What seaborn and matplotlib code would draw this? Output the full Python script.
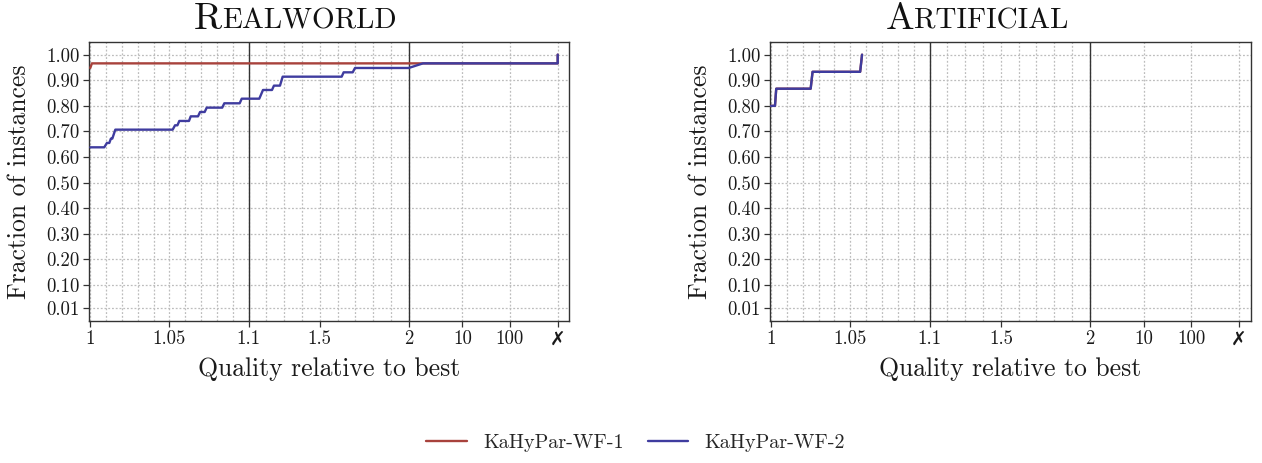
import numpy as np
import pandas as pd
import matplotlib
matplotlib.use("Agg")
import matplotlib.pyplot as plt
import seaborn as sns
from matplotlib.lines import Line2D
from matplotlib.offsetbox import TextArea, HPacker, AnchoredOffsetbox

# ---------------- data ----------------
algorithms = ["KaHyPar-WF-1", "KaHyPar-WF-2"]
colors = ["#A8423C", "#3F3C9F"]
panel_titles = ["Realworld", "Artificial"]

INFEASIBLE = 1000.0  # position value used for the "✗" column

real_wf1_x = [1.0, 1.001, 1000.0, 1000.0]
real_wf1_y = [0.948, 0.966, 0.966, 1.0]

real_wf2_x = [1.0, 1.0088, 1.0105, 1.012, 1.013, 1.0139, 1.0158, 1.052, 1.0535,
              1.055, 1.0562, 1.0623, 1.0634, 1.068, 1.0693, 1.0722, 1.0735, 1.0833,
              1.0846, 1.0943, 1.0956, 1.1596, 1.1804, 1.231, 1.242, 1.276, 1.291,
              1.623, 1.634, 1.685, 1.698, 2.0, 3.07, 1000.0, 1000.0]
real_wf2_y = [0.638, 0.638, 0.655, 0.655, 0.672, 0.672, 0.707, 0.707, 0.724,
              0.724, 0.741, 0.741, 0.759, 0.759, 0.776, 0.776, 0.793, 0.793,
              0.810, 0.810, 0.828, 0.828, 0.862, 0.862, 0.879, 0.879, 0.914,
              0.914, 0.931, 0.931, 0.948, 0.948, 0.966, 0.966, 1.0]

art_wf1_x = [1.0, 1.0025, 1.0033, 1.025, 1.0262, 1.0562, 1.0574]
art_wf1_y = [0.800, 0.800, 0.867, 0.867, 0.933, 0.933, 1.0]
art_wf2_x = [1.0, 1.0025, 1.0033, 1.025, 1.0262, 1.0562, 1.0574]
art_wf2_y = [0.800, 0.800, 0.867, 0.867, 0.933, 0.933, 1.0]

x_major = [1.0, 1.05, 1.1, 1.5, 2.0, 10.0, 100.0, INFEASIBLE]
x_major_labels = ["1", "1.05", "1.1", "1.5", "2", "10", "100", "\u2717"]
x_minor = [1.01, 1.02, 1.03, 1.04, 1.06, 1.07, 1.08, 1.09,
           1.2, 1.3, 1.4, 1.6, 1.7, 1.8, 1.9]
y_ticks = [0.01, 0.1, 0.2, 0.3, 0.4, 0.5, 0.6, 0.7, 0.8, 0.9, 1.0]
y_labels = ["0.01", "0.10", "0.20", "0.30", "0.40", "0.50",
            "0.60", "0.70", "0.80", "0.90", "1.00"]


def frame(xs, ys, algo):
    return pd.DataFrame({"ratio": xs, "frac": ys, "algo": algo})


panels = [
    pd.concat([frame(real_wf1_x, real_wf1_y, algorithms[0]),
               frame(real_wf2_x, real_wf2_y, algorithms[1])], ignore_index=True),
    pd.concat([frame(art_wf1_x, art_wf1_y, algorithms[0]),
               frame(art_wf2_x, art_wf2_y, algorithms[1])], ignore_index=True),
]

# ---------------- piecewise x scale ----------------
_G = np.array([0.0, 1.0, 1.1, 2.0, 2 + np.log10(5), 2 + np.log10(50),
               2 + np.log10(500), 2 + np.log10(5000)])
_T = np.array([-1584.0, 0.0, 158.4, 318.4, 372.0, 419.4, 467.4, 515.4])


def fwd(x):
    x = np.asarray(x, dtype=float)
    g = np.where(x <= 2, x, 2 + np.log10(np.maximum(x, 2) / 2))
    return np.interp(g, _G, _T)


def inv(t):
    t = np.asarray(t, dtype=float)
    g = np.interp(t, _T, _G)
    return np.where(g <= 2, g, 2 * 10 ** (np.maximum(g, 2) - 2))


# ---------------- style ----------------
sns.set_theme(style="white")
plt.rcParams["font.family"] = ["cmr10", "DejaVu Serif"]
plt.rcParams["axes.formatter.use_mathtext"] = True
plt.rcParams["axes.unicode_minus"] = False

W, H = 1262, 463
fig = plt.figure(figsize=(W / 100, H / 100), dpi=100)

axes_px = [(89.3, 42.0, 569.3, 320.7), (770.0, 42.0, 1250.7, 320.7)]
title_px = [(295, 19), (977, 19)]

for i, (df, (l, t, r, b)) in enumerate(zip(panels, axes_px)):
    ax = fig.add_axes([l / W, 1 - b / H, (r - l) / W, (b - t) / H])
    ax.set_xscale("function", functions=(fwd, inv))
    sns.lineplot(data=df, x="ratio", y="frac", hue="algo", hue_order=algorithms,
                 palette=colors, sort=False, estimator=None, lw=1.7,
                 legend=False, ax=ax, zorder=3)
    ax.set_xlim(float(inv(-1.0)), float(inv(479.0)))
    ax.set_ylim(-0.0395, 1.0495)
    ax.set_xticks(x_major)
    ax.set_xticklabels(x_major_labels)
    ax.set_xticks(x_minor, minor=True)
    ax.set_yticks(y_ticks)
    ax.set_yticklabels(y_labels)
    ax.set_axisbelow(True)
    ax.grid(which="both", axis="x", ls=(0, (1.5, 1.5)), color="#BDBDBD", lw=0.9)
    ax.grid(which="major", axis="y", ls=(0, (1.5, 1.5)), color="#BDBDBD", lw=0.9)
    for xv in (1.1, 2.0):
        ax.axvline(xv, color="#333333", lw=1.0, zorder=2)
    for s in ax.spines.values():
        s.set_color("#333333")
        s.set_linewidth(1.0)
    ax.tick_params(axis="both", which="both", direction="out", length=4,
                   width=0.9, color="#333333", labelsize=13.5, pad=3,
                   labelcolor="#1a1a1a")
    ax.tick_params(axis="x", which="minor", length=3)
    ax.tick_params(axis="y", left=True)
    ax.tick_params(axis="x", bottom=True)
    lab = ax.get_xticklabels()[-1]
    lab.set_fontfamily("DejaVu Sans")
    lab.set_fontweight("bold")
    ax.set_xlabel("Quality relative to best", fontsize=18.5, labelpad=6,
                  color="#1a1a1a")
    ax.set_ylabel("Fraction of instances", fontsize=18.5, labelpad=11,
                  color="#1a1a1a")

    name = panel_titles[i]
    first = TextArea(name[0].upper(), textprops=dict(fontsize=27.5, color="#111111"))
    rest = TextArea(name[1:].upper(), textprops=dict(fontsize=21, color="#111111"))
    box = HPacker(children=[first, rest], align="baseline", pad=0, sep=0)
    xc, yc = title_px[i]
    anch = AnchoredOffsetbox(loc="center", child=box, frameon=False,
                             bbox_to_anchor=(xc / W, 1 - yc / H),
                             bbox_transform=fig.transFigure, borderpad=0, pad=0)
    fig.add_artist(anch)

handles = [Line2D([], [], color=c, lw=1.7) for c in colors]
fig.legend(handles, algorithms, loc="center", bbox_to_anchor=(635.5 / W, 1 - 443 / H),
           ncol=2, frameon=False, fontsize=14.5, handlelength=2.0,
           handletextpad=0.8, columnspacing=1.2)

fig.savefig("out.png", dpi=100)
